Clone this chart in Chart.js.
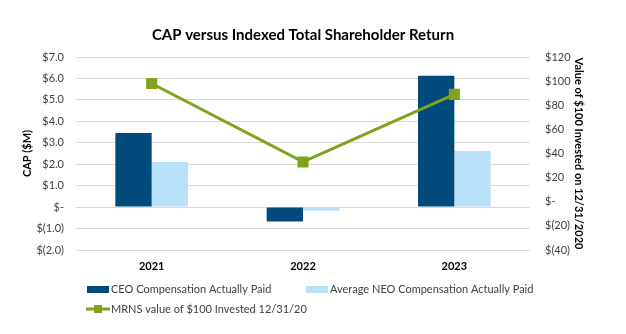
<!DOCTYPE html>
<html>
<head>
<meta charset="utf-8">
<script src="https://cdn.jsdelivr.net/npm/chart.js@4"></script>
<style>
  html, body { margin: 0; padding: 0; background: #fff; }
  #wrap { width: 626px; height: 334px; position: relative; }
</style>
</head>
<body>
<div id="wrap"><canvas id="chart"></canvas></div>
<script>
const years = ['2021', '2022', '2023'];
const ceoCap = [3.46, -0.67, 6.12];
const neoCap = [2.1, -0.17, 2.62];
const tsrValue = [98, 33, 89];
const seriesNames = ['CEO Compensation Actually Paid', 'Average NEO Compensation Actually Paid', 'MRNS value of $100 Invested 12/31/20'];

const CEO_COLOR = '#004b7c';
const NEO_COLOR = '#b9e1fa';
const LINE_COLOR = '#7fa31b';
const FONT = 'Lato, "Liberation Sans", sans-serif';

function leftTick(v) {
    if (v === 0) return '$-';
    if (v < 0) return '$(' + Math.abs(v).toFixed(1) + ')';
    return '$' + v.toFixed(1);
}
function rightTick(v) {
    if (v === 0) return '$-';
    if (v < 0) return '$(' + Math.abs(v) + ')';
    return '$' + v;
}

// draw the legend under the chart
const legendPlugin = {
    id: 'bottomLegend',
    afterDraw(chart) {
        const ctx = chart.ctx;
        ctx.save();
        ctx.font = '11px ' + FONT;
        ctx.textBaseline = 'middle';
        ctx.textAlign = 'left';
        // row 1
        ctx.fillStyle = CEO_COLOR;
        ctx.fillRect(87, 286, 22, 7);
        ctx.fillStyle = '#404040';
        ctx.fillText(seriesNames[0], 111, 289.5);
        ctx.fillStyle = NEO_COLOR;
        ctx.fillRect(306, 286, 22, 7);
        ctx.fillStyle = '#404040';
        ctx.fillText(seriesNames[1], 330, 289.5);
        // row 2
        ctx.strokeStyle = LINE_COLOR;
        ctx.lineWidth = 3;
        ctx.beginPath();
        ctx.moveTo(86, 309);
        ctx.lineTo(110, 309);
        ctx.stroke();
        ctx.fillStyle = LINE_COLOR;
        ctx.fillRect(94, 305, 8, 8);
        ctx.fillStyle = '#404040';
        ctx.fillText(seriesNames[2], 111, 309.5);
        ctx.restore();
    }
};

new Chart(document.getElementById('chart'), {
    data: {
        labels: years,
        datasets: [
            {
                type: 'bar',
                label: seriesNames[0],
                data: ceoCap,
                backgroundColor: CEO_COLOR,
                yAxisID: 'y',
                order: 1,
                categoryPercentage: 0.48,
                barPercentage: 1.0
            },
            {
                type: 'bar',
                label: seriesNames[1],
                data: neoCap,
                backgroundColor: NEO_COLOR,
                yAxisID: 'y',
                order: 1,
                categoryPercentage: 0.48,
                barPercentage: 1.0
            },
            {
                type: 'line',
                label: seriesNames[2],
                data: tsrValue,
                borderColor: LINE_COLOR,
                backgroundColor: LINE_COLOR,
                borderWidth: 3,
                pointStyle: 'rect',
                pointRadius: 5.7,
                pointHoverRadius: 5.7,
                yAxisID: 'y1',
                order: 0
            }
        ]
    },
    options: {
        responsive: true,
        maintainAspectRatio: false,
        animation: false,
        layout: { padding: { left: 0, right: 0, top: 0, bottom: 54 } },
        plugins: {
            legend: { display: false },
            tooltip: { enabled: false },
            title: {
                display: true,
                fullSize: false,
                text: 'CAP versus Indexed Total Shareholder Return',
                color: '#000',
                font: { family: FONT, size: 15, weight: 'bold' },
                padding: { top: 26, bottom: 13 }
            }
        },
        scales: {
            x: {
                grid: { display: false, drawTicks: false },
                border: { display: false },
                ticks: {
                    color: '#000',
                    padding: 10,
                    font: { family: FONT, size: 11, weight: 'bold' }
                },
                afterFit: scale => { scale.height = 30; }
            },
            y: {
                position: 'left',
                min: -2,
                max: 7,
                grid: { color: '#d9d9d9', drawTicks: false },
                border: { display: false },
                ticks: {
                    stepSize: 1,
                    padding: 12,
                    color: '#404040',
                    font: { family: FONT, size: 11 },
                    callback: v => leftTick(v)
                },
                title: {
                    display: true,
                    text: 'CAP ($M)',
                    color: '#000',
                    font: { family: FONT, size: 11, weight: 'bold' },
                    padding: { top: 21, bottom: 0 }
                },
                afterFit: scale => { scale.width = 76; }
            },
            y1: {
                position: 'right',
                min: -40,
                max: 120,
                grid: { display: false, drawTicks: false },
                border: { display: false },
                ticks: {
                    stepSize: 20,
                    padding: 15,
                    color: '#404040',
                    font: { family: FONT, size: 11 },
                    callback: v => rightTick(v)
                },
                title: {
                    display: true,
                    text: 'Value of $100 Invested on 12/31/2020',
                    color: '#000',
                    font: { family: FONT, size: 11, weight: 'bold' },
                    padding: { top: 41, bottom: 0 }
                },
                afterFit: scale => { scale.width = 96; }
            }
        }
    },
    plugins: [legendPlugin]
});
</script>
</body>
</html>
